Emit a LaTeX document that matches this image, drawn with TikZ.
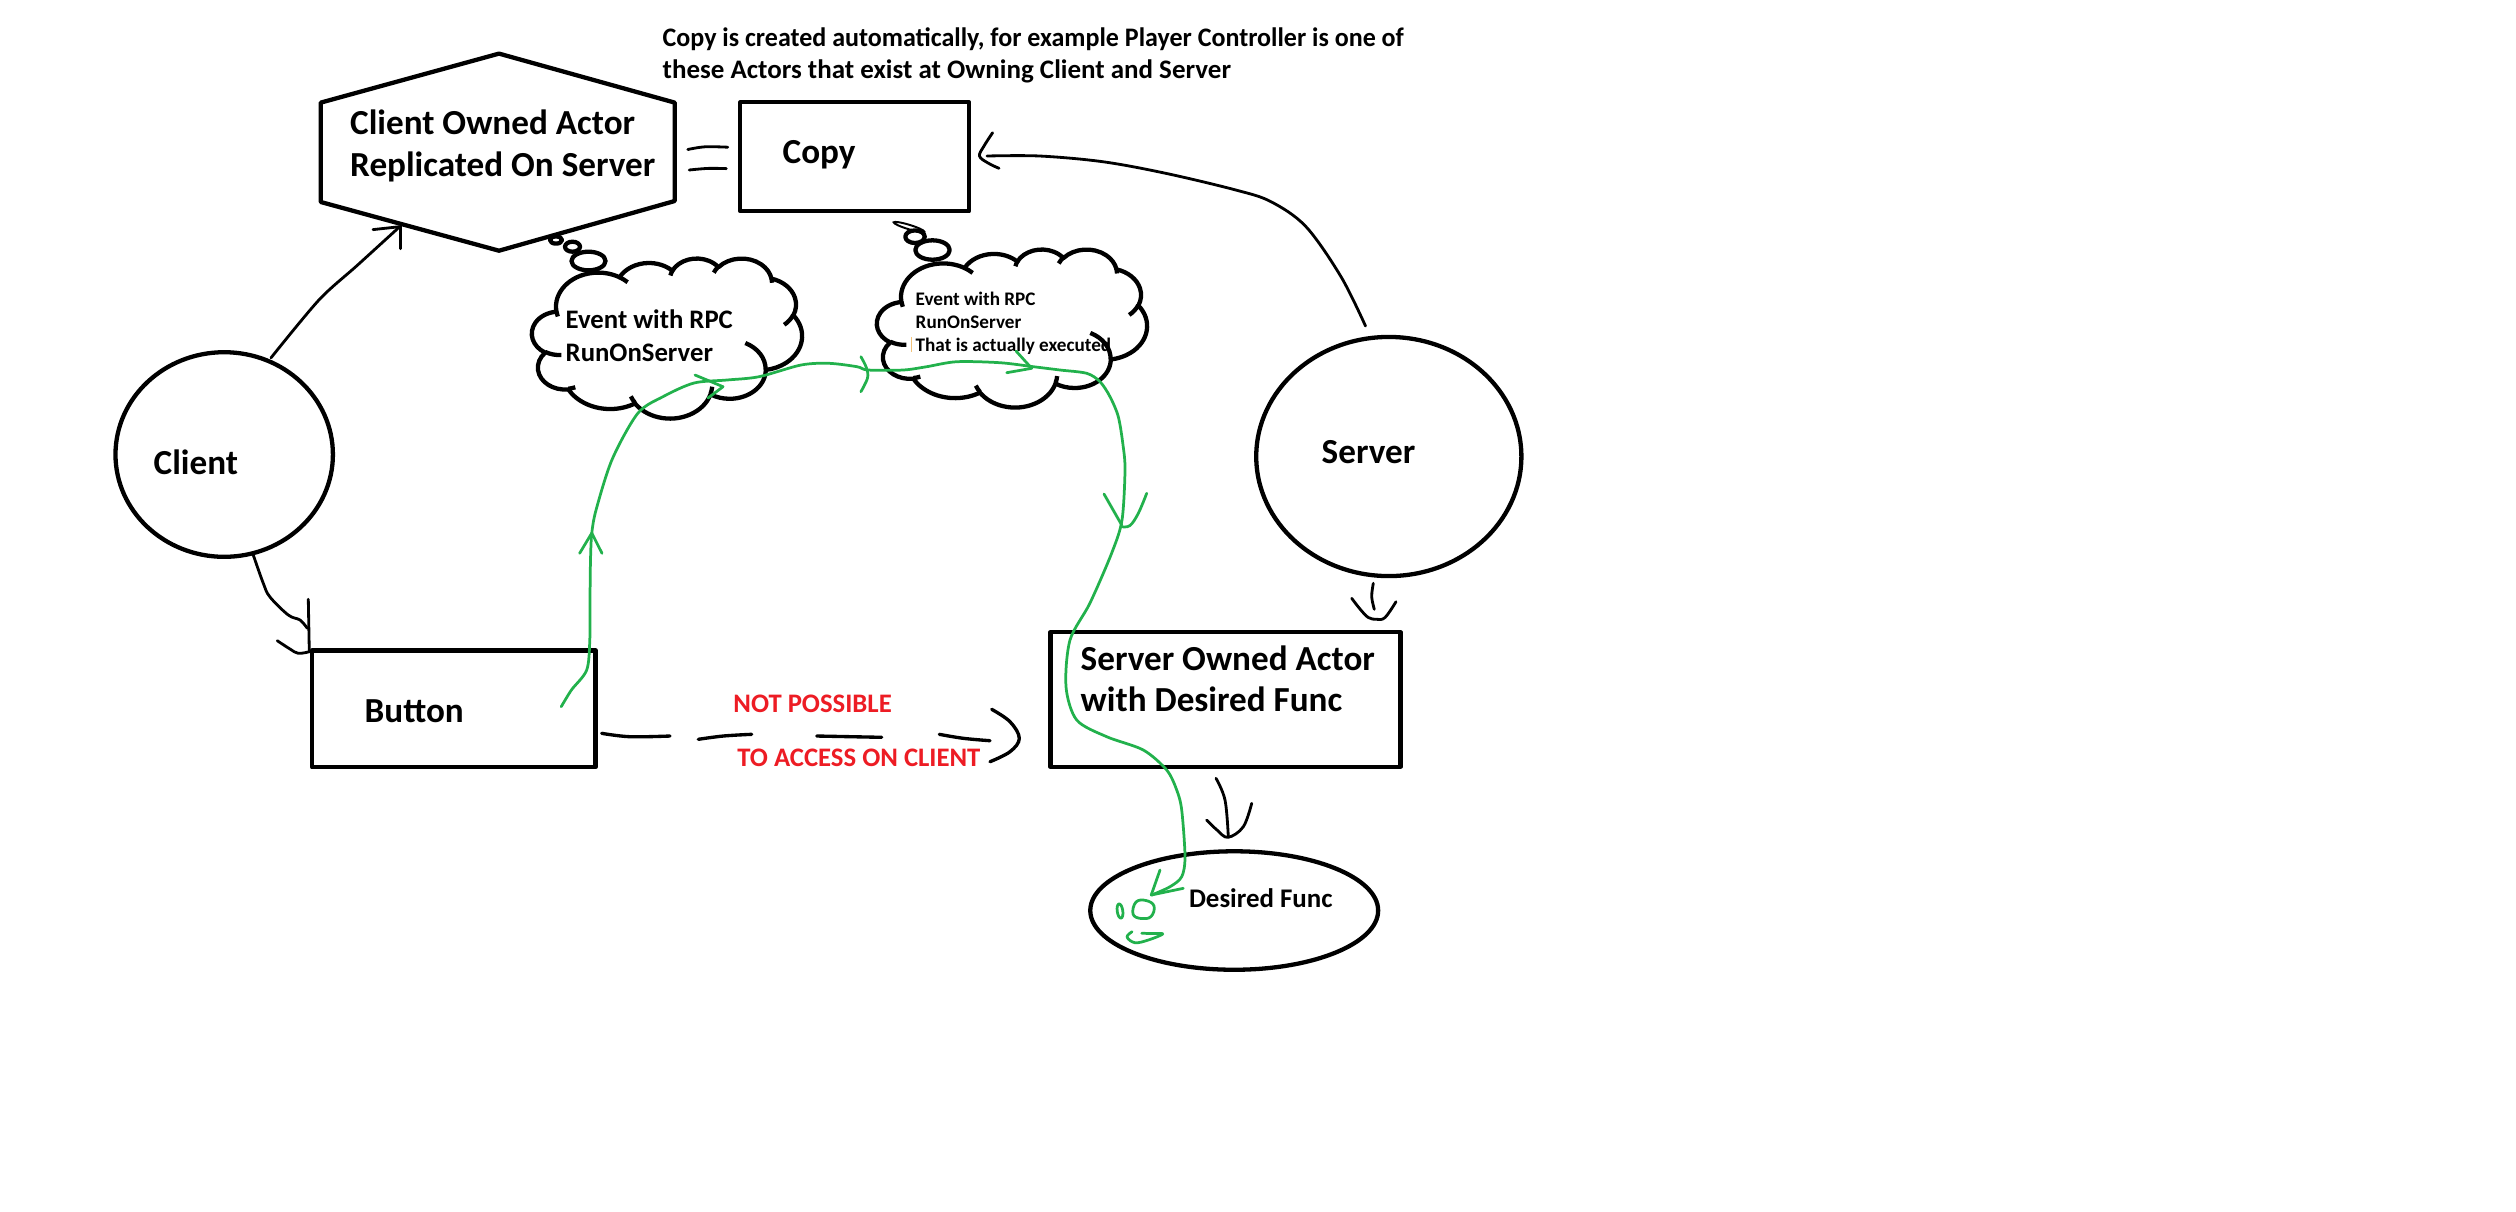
\documentclass[tikz,border=0pt]{standalone}
\usepackage{fontspec}
\setmainfont{Carlito}
\usetikzlibrary{shapes.geometric}
\definecolor{pgreen}{HTML}{22B14C}
\definecolor{pred}{HTML}{ED1C24}
\definecolor{curs}{HTML}{F2C27A}
% office-style elliptic arc: wR hR startAngle sweep (visual angles, degrees)
\newcommand\oa[4]{%
  \pgfextra{%
    \pgfmathparse{atan2((#1)*sin(#3),(#2)*cos(#3))}\xdef\oaS{\pgfmathresult}%
    \pgfmathparse{atan2((#1)*sin((#3)+(#4)),(#2)*cos((#3)+(#4)))}\xdef\oaE{\pgfmathresult}%
    \pgfmathparse{mod(\oaE-(\oaS)+720,360)}\xdef\oaD{\pgfmathresult}%
  }%
  arc[start angle=\oaS, delta angle=\oaD, x radius=#1, y radius=#2]}
\newcommand\cloudshape[4]{%
 \begin{scope}[shift={(#1,#2)}, xscale=#3, yscale=#4]
  \draw[shp] (39.00,143.70) \oa{67.53}{91.90}{-190.4875}{123.7805}
    \oa{53.33}{72.67}{-144.1024}{89.9452}
    \oa{43.65}{59.45}{-145.8079}{99.7230}
    \oa{48.57}{65.95}{-130.9861}{117.2417}
    \oa{53.33}{72.73}{-78.7089}{109.0269}
    \oa{67.75}{92.20}{-46.2673}{130.2690}
    \oa{57.85}{78.67}{0.6250}{114.0333}
    \oa{67.52}{92.15}{22.4516}{115.1726}
    \oa{77.20}{105.43}{66.2426}{75.7110}
    \oa{43.60}{59.18}{-274.9421}{146.7356}
    \oa{43.45}{59.45}{-246.8285}{152.5189} -- cycle;
  \draw[shp] (46.93,261.77) \oa{43.45}{59.45}{86.7420}{26.4295}
    (69.28,348.99) \oa{43.60}{59.18}{73.6105}{11.4475}
    (164.78,390.90) \oa{67.52}{92.15}{137.6242}{14.0811}
    (288.27,347.51) \oa{67.52}{92.15}{6.4533}{15.9984}
    (341.29,229.54) \oa{57.85}{78.67}{-70.2924}{70.9174}
    (417.98,153.54) \oa{53.33}{72.73}{30.3180}{27.7515}
    (383.24,54.26) \oa{48.57}{65.95}{-13.7443}{14.8589}
    (290.78,39.52) \oa{48.57}{65.95}{-149.1815}{18.1954}
    (221.41,47.20) \oa{43.65}{59.45}{-163.4943}{17.6864}
    (140.00,51.92) \oa{67.53}{91.90}{-66.7070}{12.3194}
    (41.27,157.89) \oa{67.53}{91.90}{157.6544}{11.8582};
 \end{scope}}
\begin{document}
\begin{tikzpicture}[x=0.01cm,y=-0.01cm,
  shp/.style={draw=black, line width=1.22pt, line join=round},
  thinln/.style={draw=black, line width=0.8pt, line cap=round, line join=round},
  dsh/.style={draw=black, line width=0.95pt, line cap=round, line join=round},
  grn/.style={draw=pgreen, line width=0.78pt, line cap=round, line join=round},
  fmain/.style={inner sep=0pt, anchor=base west, font=\bfseries\fontsize{10.0}{12}\selectfont},
  ftitle/.style={inner sep=0pt, anchor=base west, font=\bfseries\fontsize{7.6}{9}\selectfont},
  fcloudA/.style={inner sep=0pt, anchor=base west, font=\bfseries\fontsize{7.6}{9}\selectfont},
  fcloudB/.style={inner sep=0pt, anchor=base west, font=\bfseries\fontsize{5.45}{6.5}\selectfont},
  fdf/.style={inner sep=0pt, anchor=base west, font=\bfseries\fontsize{7.65}{9}\selectfont},
  fred/.style={inner sep=0pt, anchor=base west, text=pred, font=\bfseries\fontsize{7.6}{9}\selectfont},
  ell/.style={shp, ellipse, inner sep=0pt},
  boxn/.style={shp, rectangle, inner sep=0pt}]
\useasboundingbox[fill=white] (0,0) rectangle (2516,1211);

% ---------- title ----------
\node[ftitle] (t1) at (662,46) {\scalebox{0.973}[1]{Copy is created automatically, for example Player Controller is one of}};
\node[ftitle] (t2) at (662,78) {\scalebox{1.01}[1]{these Actors that exist at Owning Client and Server}};

% ---------- hexagon ----------
\coordinate (hT) at (499,53.6);  \coordinate (hUR) at (674.7,102.6);
\coordinate (hLR) at (674.7,201); \coordinate (hB) at (499,250.7);
\coordinate (hLL) at (320.8,202); \coordinate (hUL) at (320.8,102.6);
\draw[shp] (hT) -- (hUR) -- (hLR) -- (hB) -- (hLL) -- (hUL) -- cycle;
\node[fmain] (hex1) at (349.5,134.7) {Client Owned Actor};
\node[fmain] (hex2) at (349.5,176.8) {Replicated On Server};

% ---------- copy ----------
\node[boxn, minimum width=2.284cm, minimum height=1.089cm] (copy) at (854.6,156.8) {};
\node[fmain] (copylbl) at (782,163) {Copy};
\draw[thinln] plot[smooth, tension=0.6] coordinates {(687.8,149.5) (705,146.8) (727.8,147.2)};
\draw[thinln] plot[smooth, tension=0.6] coordinates {(689.2,170) (708,168.4) (726.3,168.6)};

% ---------- ellipses & boxes ----------
\node[ell, minimum width=2.173cm, minimum height=2.045cm] (client) at (224.2,454.5) {};
\node[fmain] (clientlbl) at (153,474.5) {Client};
\node[ell, minimum width=2.65cm, minimum height=2.39cm] (server) at (1388.8,456.5) {};
\node[fmain] (serverlbl) at (1321,463.3) {Server};
\node[boxn, minimum width=2.834cm, minimum height=1.167cm] (button) at (453.7,708.9) {};
\node[fmain] (buttonlbl) at (364,722.7) {Button};
\node[boxn, minimum width=3.498cm, minimum height=1.345cm] (soa) at (1225.4,699.4) {};
\node[fmain] (soa1) at (1080,670.7) {Server Owned Actor};
\node[fmain] (soa2) at (1080,711.7) {with Desired Func};
\node[ell, minimum width=2.877cm, minimum height=1.184cm] (df) at (1234.2,910.5) {};
\node[fdf] (dflbl) at (1188.3,907.3) {Desired Func};

% ---------- clouds ----------
\cloudshape{532}{258}{0.625}{0.3704}
\draw[shp] (556,240) ellipse[x radius=6, y radius=3.6];
\draw[shp] (572.5,246.7) ellipse[x radius=7.5, y radius=5];
\draw[shp] (588.5,261) ellipse[x radius=17, y radius=9.3];
\node[fcloudA] (c1a) at (565,328.3) {Event with RPC};
\node[fcloudA] (c1b) at (565,361) {RunOnServer};

\cloudshape{877}{249}{0.625}{0.3657}
\draw[black, line width=0.55pt, rotate around={-17:(909,227)}] (909,227) ellipse[x radius=16, y radius=2.2];
\draw[shp] (915,236.7) ellipse[x radius=9.7, y radius=6.3];
\draw[shp] (932.5,250) ellipse[x radius=17.2, y radius=9.7];
\node[fcloudB] (c2a) at (915,305) {Event with RPC};
\node[fcloudB] (c2b) at (915,328.3) {RunOnServer};
\node[fcloudB] (c2c) at (915,351) {That is actually executed};
\draw[curs, line width=0.3pt] (911.7,337) -- (911.7,352);

% ---------- black connectors ----------
% client -> hexagon
\coordinate (a1s) at (271,357.8); \coordinate (a1e) at (398.6,227.7);
\draw[thinln] plot[smooth, tension=0.5] coordinates {(a1s) (318.9,300) (357.1,265.5) (a1e)};
\draw[thinln] (373,229.6) -- (400.5,226.6) -- (400.5,248.8);
% client -> button
\coordinate (a2s) at (253.3,555); \coordinate (a2e) at (307.3,628.3);
\draw[thinln] plot[smooth, tension=0.6] coordinates {(a2s) (263.3,583.3) (270,597) (288.3,615) (300,620) (a2e)};
\draw[thinln] (308.3,599.3) -- (309.3,651.7);
\draw[thinln] plot[smooth, tension=0.6] coordinates {(277.3,640.7) (290,649) (298.3,653.3) (309.3,651.7)};
% server -> copy
\coordinate (a3s) at (1365.5,326); \coordinate (a3e) at (987,156);
\draw[thinln] plot[smooth, tension=0.55] coordinates {(a3s) (1341,276.7) (1306,226.7) (1271,201.7) (1235.8,190) (1165.7,173.3) (1102.7,161.7) (1039.6,156) (a3e)};
\draw[thinln] plot[smooth, tension=0.6] coordinates {(992.6,132.7) (984,146) (979.5,156) (988,163) (999,168.3)};
% server -> server owned actor
\coordinate (a4s) at (1373.3,583.3); \coordinate (a4e) at (1374.3,609.3);
\draw[thinln] plot[smooth, tension=0.6] coordinates {(a4s) (1371.7,596.7) (a4e)};
\draw[thinln] plot[smooth, tension=0.6] coordinates {(1351.7,598.3) (1360,609) (1368.3,617.5) (1376.7,619.3) (1385,617.5) (1396,601.7)};
% server owned actor -> desired func
\coordinate (a5s) at (1216,778.3); \coordinate (a5e) at (1228.3,836.7);
\draw[thinln] plot[smooth, tension=0.6] coordinates {(a5s) (1225,800) (a5e)};
\draw[thinln] plot[smooth, tension=0.6] coordinates {(1206.7,820) (1217,830) (1228,837.3) (1243.3,826.7) (1251.7,803.3)};
% dashed: button -> server owned actor
\draw[dsh] plot[smooth, tension=0.6] coordinates {(601.7,733.3) (630,736.7) (670,736)};
\draw[dsh] plot[smooth, tension=0.6] coordinates {(698.3,739.3) (723.3,736) (751.7,734.3)};
\draw[dsh] (816.7,736) -- (881.7,737.3);
\draw[dsh] plot[smooth, tension=0.6] coordinates {(939.3,734.3) (963.3,738.3) (990,740.7)};
\draw[dsh] plot[smooth, tension=0.6] coordinates {(991.7,709.3) (1010,721.7) (1019.3,738.3) (1010,751.7) (990,761.7)};
\node[fred] (np1) at (732.7,712.7) {NOT POSSIBLE};
\node[fred] (np2) at (736.7,766.7) {TO ACCESS ON CLIENT};

% ---------- green path ----------
\coordinate (gs) at (561.2,706.7); \coordinate (ge) at (1151.7,895);
\draw[grn] plot[smooth, tension=0.5] coordinates {(gs) (571.4,690) (586.7,670) (589.8,640) (590,600) (590.5,560) (591.8,533) (596.3,509) (612.2,459.2) (637.8,413.3) (663.3,396.5) (694,383) (727,380) (759,376.7) (801,365) (829,363.3) (857,366.7) (868,370) (903.3,370) (926.7,366.7) (956.7,361.7) (1000,362.7) (1033.3,366.7) (1060,370) (1086.7,373.3) (1100,381.7) (1110,396.7) (1118.3,416.7) (1123,445) (1125,470) (1122,520) (1111.7,553) (1090,603) (1070,640) (1066,686.7) (1076.7,720) (1106.7,736.7) (1143.3,750) (1166.7,770) (1176.7,790) (1181.7,810) (1185,856.7) (1181.7,876.7) (1170,886.7) (ge)};
% green arrowheads
\draw[grn] (579.6,553.3) -- (591.8,533) -- (602,553.3);
\draw[grn] (695,375) -- (723,386.7) -- (708,398);
\draw[grn] plot[smooth, tension=0.6] coordinates {(860.9,356.7) (866.5,368) (867.5,378) (860.9,391.7)};
\draw[grn] (1016,351) -- (1031.7,368.3) -- (1006.7,372.7);
\draw[grn] (1104,494) -- (1121.7,525);
\draw[grn] plot[smooth, tension=0.6] coordinates {(1146.7,493.3) (1138.3,513.3) (1130,525.5) (1121.7,526.7)};
\draw[grn] (1160,870) -- (1151.2,895) -- (1183.3,888.3);
% green scribbles
\draw[grn, rotate around={8:(1120,911)}] (1120,911) ellipse[x radius=2.8, y radius=7.2];
\draw[grn] plot[smooth cycle, tension=0.7] coordinates {(1136,902) (1146,900.5) (1154,906) (1151,916.5) (1141,918.5) (1133,914)};
\draw[grn] plot[smooth, tension=0.6] coordinates {(1132,931.7) (1127,937) (1135,942.7) (1148.3,940) (1162.7,934) (1153.3,933.5) (1141.7,933.3)};
\end{tikzpicture}
\end{document}
